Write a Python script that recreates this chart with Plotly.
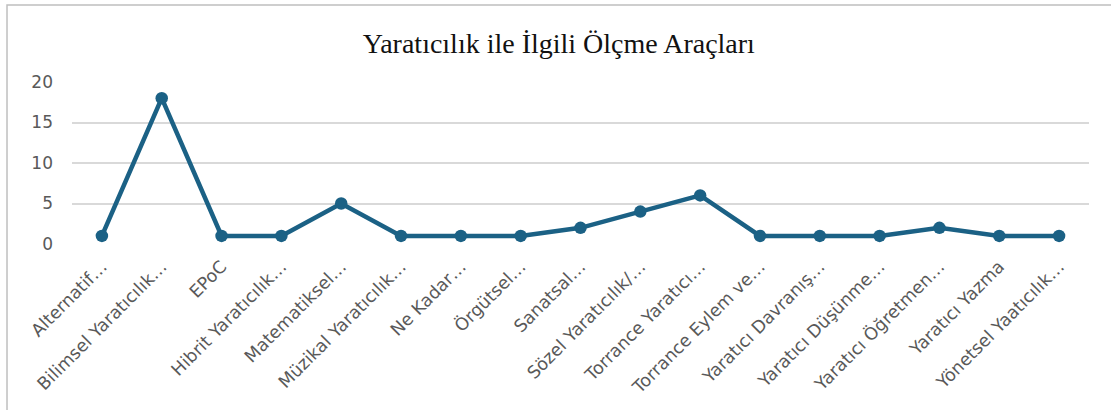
import plotly.graph_objects as go

categories = [
    "Alternatif…", "Bilimsel Yaratıcılık…", "EPoC", "Hibrit Yaratıcılık…",
    "Matematiksel…", "Müzikal Yaratıcılık…", "Ne Kadar…", "Örgütsel…",
    "Sanatsal…", "Sözel Yaratıcılık/…", "Torrance Yaratıcı…",
    "Torrance Eylem ve…", "Yaratıcı Davranış…", "Yaratıcı Düşünme…",
    "Yaratıcı Öğretmen…", "Yaratıcı Yazma", "Yönetsel Yaatıcılık…",
]
values = [1, 18, 1, 1, 5, 1, 1, 1, 2, 4, 6, 1, 1, 1, 2, 1, 1]
y_ticks = [0, 5, 10, 15, 20]
title_text = "Yaratıcılık ile İlgili Ölçme Araçları"

color = "#1b6185"
x_font = dict(family="DejaVu Sans, sans-serif", size=17.5, color="#595959")
y_font = dict(family="DejaVu Sans, sans-serif", size=17, color="#595959")

fig = go.Figure(go.Scatter(
    x=categories, y=values, mode="lines+markers",
    line=dict(color=color, width=4.5),
    marker=dict(color=color, size=12.5),
    cliponaxis=False,
))

fig.update_layout(
    width=1111, height=410,
    margin=dict(l=72, r=22, t=82, b=166, autoexpand=False),
    paper_bgcolor="white", plot_bgcolor="white",
    showlegend=False,
    title=dict(text=title_text, x=0.503, xanchor="center", y=0.895, yanchor="middle",
               font=dict(family="Liberation Serif, Times New Roman, serif", size=28, color="#111111")),
    xaxis=dict(tickangle=-45, tickfont=x_font, showgrid=False, zeroline=False,
               range=[-0.5, len(categories) - 0.5],
               showline=False, ticks="", ticklabelstandoff=8, automargin=False),
    yaxis=dict(range=[0, 20], tickvals=y_ticks, tickfont=y_font, showgrid=True,
               gridcolor="#d9d9d9", gridwidth=1.5, zeroline=False, showline=False,
               ticks="", ticklabelstandoff=18, automargin=False),
    shapes=[dict(type="rect", xref="paper", yref="paper", x0=-0.0639, x1=1.1, y0=-2, y1=1.475,
                 line=dict(color="#bfbfbf", width=1.5), fillcolor="rgba(0,0,0,0)", layer="below")],
)

fig.write_html("out.html", config={"displayModeBar": False},
               post_script="document.body.style.margin='0';")
